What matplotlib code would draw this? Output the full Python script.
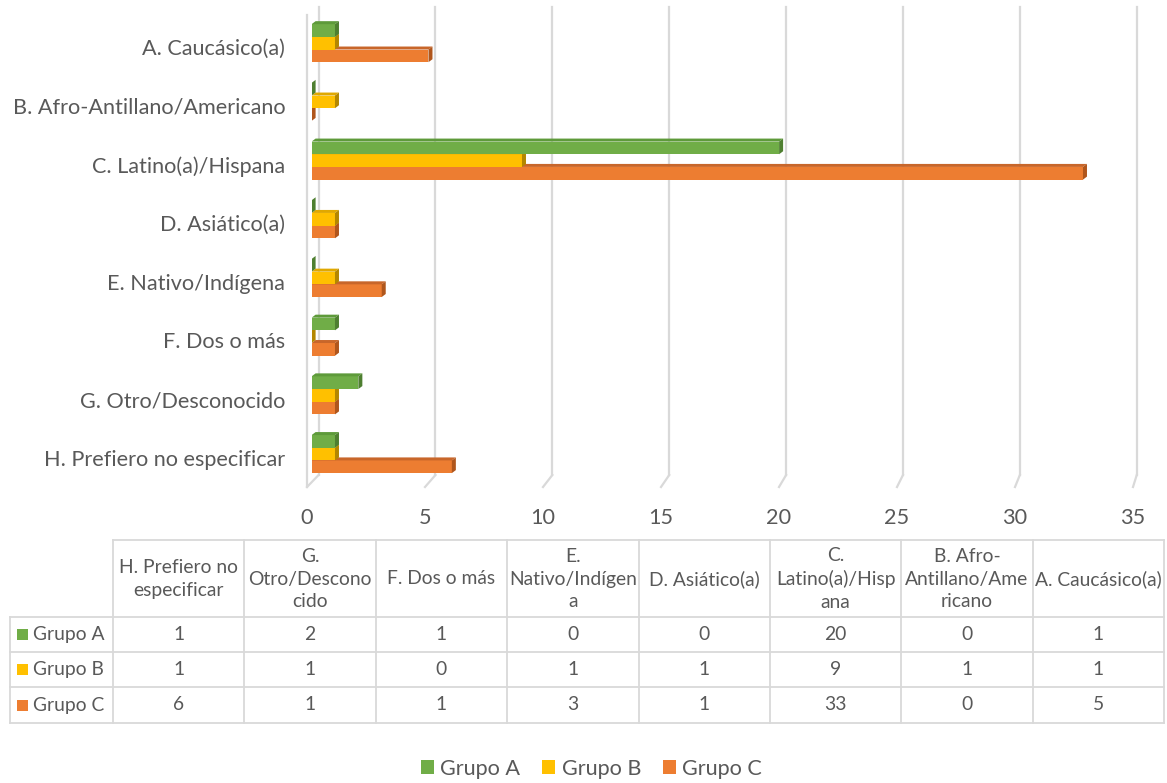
import matplotlib.pyplot as plt
from matplotlib.patches import Polygon, Patch, Rectangle
import matplotlib.transforms as mtransforms

plt.rcParams['font.family'] = ['Lato', 'DejaVu Sans']

categorias = ['A. Caucásico(a)', 'B. Afro-Antillano/Americano', 'C. Latino(a)/Hispana',
              'D. Asiático(a)', 'E. Nativo/Indígena', 'F. Dos o más',
              'G. Otro/Desconocido', 'H. Prefiero no especificar']
grupo_a = [1, 0, 20, 0, 0, 1, 2, 1]
grupo_b = [1, 1, 9, 1, 1, 0, 1, 1]
grupo_c = [5, 0, 33, 1, 3, 1, 1, 6]
series = ['Grupo A', 'Grupo B', 'Grupo C']
encabezados = ['H. Prefiero no\nespecificar', 'G.\nOtro/Descono\ncido', 'F. Dos o más',
               'E.\nNativo/Indígen\na', 'D. Asiático(a)', 'C.\nLatino(a)/Hisp\nana',
               'B. Afro-\nAntillano/Ame\nricano', 'A. Caucásico(a)']
ticks_x = [0, 5, 10, 15, 20, 25, 30, 35]

colores = ['#70AD47', '#FFC000', '#ED7D31']
lados = ['#4E7F30', '#B38700', '#B0561C']
techos = ['#5E9A3A', '#E0A800', '#C8662A']
gris = '#595959'
linea = '#D9D9D9'
fs_eje = 15.6
fs_tabla = 13.9

W, H = 1167, 783
fig = plt.figure(figsize=(W / 100, H / 100), dpi=100)

# capa en pixeles para la tabla de datos
tax = fig.add_axes([0, 0, 1, 1])
tax.set_xlim(0, W)
tax.set_ylim(H, 0)
tax.axis('off')

# grafico de barras (pseudo 3D)
x0, ux, uy = 311.6, 23.375, 58.7
ax = fig.add_axes([x0 / W, (H - 487) / H, 35 * ux / W, 480 / H])
ax.set_facecolor('none')
ax.set_xlim(0, 35)
ax.set_ylim((487 - 47) / uy, (7 - 47) / uy)
for s in ax.spines.values():
    s.set_visible(False)

def frente(v):
    # borde frontal del piso, en unidades de datos
    return (307 + 23.6 * v - x0) / ux

y_fondo = (475 - 47) / uy
y_piso = (487 - 47) / uy
for v in ticks_x:
    ax.plot([v + 0.3, v + 0.3], [(7 - 47) / uy, y_fondo], color=linea, lw=1.6, zorder=1, clip_on=False)
    ax.plot([v + 0.3, frente(v)], [y_fondo, y_piso], color=linea, lw=1.6, zorder=1, clip_on=False)
ax.plot([frente(0), frente(0)], [(15 - 47) / uy, y_piso], color=linea, lw=1.6, zorder=1, clip_on=False)

h = 0.216
dx = 4 / ux
dy = 3 / uy
shift = -0.065
valores = [grupo_a, grupo_b, grupo_c]
for k in (2, 1, 0):
    z = 3 + (2 - k)
    for i, v in enumerate(valores[k]):
        yc = i + shift + (k - 1) * h
        yt, yb = yc - h / 2, yc + h / 2
        ax.barh(yc, v, height=h, color=colores[k], zorder=z)
        ax.add_patch(Polygon([(0, yt), (dx, yt - dy), (v + dx, yt - dy), (v, yt)],
                             closed=True, facecolor=techos[k], edgecolor='none', zorder=z))
        ax.add_patch(Polygon([(v, yt), (v + dx, yt - dy), (v + dx, yb - dy), (v, yb)],
                             closed=True, facecolor=lados[k], edgecolor='none', zorder=z))

ax.set_yticks(range(len(categorias)))
ax.set_yticklabels(categorias)
ax.set_xticks(ticks_x)
ax.set_xticklabels([str(t) for t in ticks_x])
ax.tick_params(axis='both', length=0, labelsize=fs_eje, labelcolor=gris)
ax.tick_params(axis='y', pad=19)
ax.tick_params(axis='x', pad=15)
for t, lab in zip(ticks_x, ax.get_xticklabels()):
    off = (-4.6 + 0.225 * t) / 100
    lab.set_transform(lab.get_transform() + mtransforms.ScaledTranslation(off, 0, fig.dpi_scale_trans))

# tabla de datos
bordes = [113 + 131.375 * k for k in range(9)]
filas = [617, 652, 687, 723]
tax.plot([bordes[0], bordes[-1]], [540, 540], color=linea, lw=1.3)
for b in bordes:
    tax.plot([b, b], [540, filas[-1]], color=linea, lw=1.3)
for f in filas:
    tax.plot([10, bordes[-1]], [f, f], color=linea, lw=1.3)
tax.plot([10, 10], [filas[0], filas[-1]], color=linea, lw=1.3)

for j, txt in enumerate(encabezados):
    cx = (bordes[j] + bordes[j + 1]) / 2
    tax.text(cx, 579, txt, ha='center', va='center', fontsize=fs_tabla, color=gris, linespacing=1.42)

for k, nombre in enumerate(series):
    yc = (filas[k] + filas[k + 1]) / 2
    tax.add_patch(Rectangle((17, yc - 5.5), 11, 11, facecolor=colores[k], edgecolor='none'))
    tax.text(33, yc, nombre, ha='left', va='center', fontsize=fs_tabla, color=gris)
    for j, v in enumerate(valores[k][::-1]):
        cx = (bordes[j] + bordes[j + 1]) / 2
        tax.text(cx, yc, str(v), ha='center', va='center', fontsize=fs_tabla, color=gris)

handles = [Patch(facecolor=c, label=s) for c, s in zip(colores, series)]
fig.legend(handles=handles, loc='center', bbox_to_anchor=(591.5 / W, 1 - 769 / H), ncol=3,
           frameon=False, fontsize=fs_eje, labelcolor=gris, handlelength=0.6, handleheight=0.6,
           handletextpad=0.3, columnspacing=1.0)

fig.savefig('out.png', dpi=100)
